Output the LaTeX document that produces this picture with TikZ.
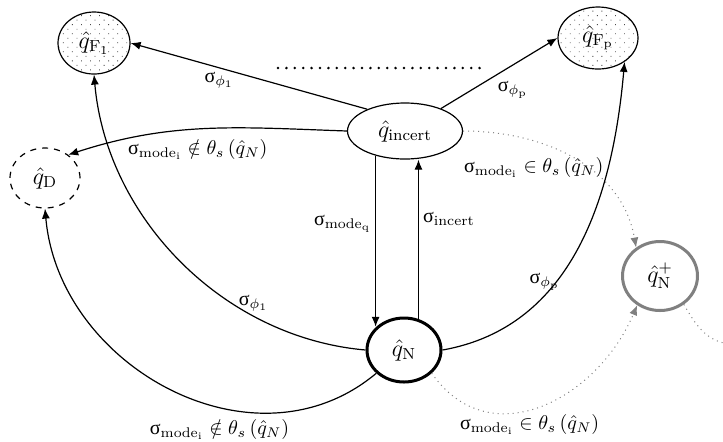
\documentclass[tikz,border=0pt]{standalone}
\usepackage{fontspec}
\newfontfamily\greekfont{Liberation Serif}
\usetikzlibrary{shapes.geometric,arrows.meta,patterns.meta}
\newcommand{\sig}{\mbox{\greekfont σ}}

\begin{document}
\begin{tikzpicture}[x=0.5pt, y=0.5pt, >={Latex[length=5pt,width=4pt]},
  state/.style={ellipse, draw, line width=0.6pt, inner sep=0pt, font=\large},
  final/.style={state, pattern={Dots[distance=3.2pt, angle=45, radius=0.3pt]}, pattern color=black!70},
  trans/.style={->, line width=0.6pt},
  hint/.style={gray, dotted, line width=0.5pt},
  lbl/.style={inner sep=2pt, text=black, font=\normalsize}]
\useasboundingbox (0,0) rectangle (723,-441);

% Etats
\node[final, minimum width=36pt, minimum height=31pt] (fone) at (94,-43) {$\hat{q}_{\mathrm{F_1}}$};
\node[final, minimum width=40pt, minimum height=31pt] (fp) at (598,-38) {$\hat{q}_{\mathrm{F_p}}$};
\node[state, minimum width=57.5pt, minimum height=28pt] (incert) at (405,-131) {$\hat{q}_{\mathrm{incert}}$};
\node[state, dashed, minimum width=35pt, minimum height=30pt] (dead) at (45,-178) {$\hat{q}_{\mathrm{D}}$};
\node[state, line width=1.5pt, minimum width=37pt, minimum height=32pt] (normal) at (404,-350) {$\hat{q}_{\mathrm{N}}$};
\node[state, gray, text=black, line width=1.5pt, minimum width=37.5pt, minimum height=34.5pt] (nplus) at (660,-276) {$\hat{q}^{+}_{\mathrm{N}}$};
\coordinate (exit) at (728,-344);

% Points de suspension
\draw[line width=1.4pt, line cap=round, dash pattern=on 0pt off 4.2pt] (278,-68) -- (484,-68);

% Transitions depuis q_incert
\draw[trans] (incert.150) -- node[lbl, pos=0.626, below] {$\sig_{\phi_1}$} (fone.east);
\draw[trans] (incert.32) -- node[lbl, pos=0.45, below right] {$\sig_{\phi_{\mathrm{p}}}$} (fp.west);
\draw[trans] (incert.west) to[out=178, in=18] node[lbl, pos=0.53, below=3pt] {$\sig_{\mathrm{mode_i}}\notin\theta_s\left(\hat{q}_N\right)$} (dead.45);
\draw[trans] (incert.220) -- node[lbl, pos=0.4, left] {$\sig_{\mathrm{mode_q}}$} (incert.220 |- normal.140);
\draw[hint, ->] (incert.east) to[out=0, in=100] node[lbl, pos=0.3, below=6pt] {$\sig_{\mathrm{mode_i}}\in\theta_s\left(\hat{q}_N\right)$} (nplus.130);

% Transitions depuis q_N
\draw[trans] (normal.65) -- node[lbl, pos=0.63, right] {$\sig_{\mathrm{incert}}$} (normal.65 |- incert.south);
\draw[trans] (normal.west) to[out=175, in=-85, looseness=0.95] node[lbl, pos=0.28, above] {$\sig_{\phi_1}$} (fone.south);
\draw[trans] (normal.east) to[out=10, in=-95] node[lbl, pos=0.33, above] {$\sig_{\phi_{\mathrm{p}}}$} (fp.-42);
\draw[trans] (normal.-140) to[out=-140, in=-85, looseness=1.1] node[lbl, pos=0.38, below=4pt] {$\sig_{\mathrm{mode_i}}\notin\theta_s\left(\hat{q}_N\right)$} (dead.south);
\draw[hint, ->] (normal.-40) to[out=-55, in=-113, looseness=1.2] node[lbl, pos=0.45, below] {$\sig_{\mathrm{mode_i}}\in\theta_s\left(\hat{q}_N\right)$} (nplus.-128);

% Suite
\draw[hint] (nplus.-50) to[out=-60, in=170] (exit);
\end{tikzpicture}
\end{document}
